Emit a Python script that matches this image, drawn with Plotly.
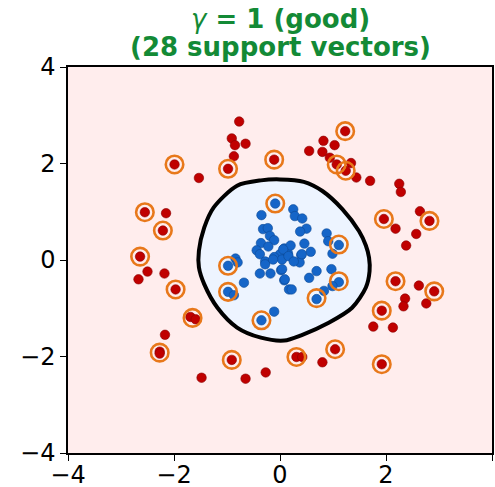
import plotly.graph_objects as go

# ---- data ----
red_x = [-0.77, -0.91, -0.85, -0.65, -0.87, -0.98, -1.99, -1.53, -0.11, -2.55, -2.15, -2.21,
         -2.64, -2.50, -2.18, -2.67, -1.97, -1.69, -1.59, -2.17, -2.27, -2.27, -0.91, -1.48,
         -0.65, -0.27, 2.18, 2.62, 2.91, 2.36, 2.33, 2.76, 1.92, 1.76, 2.13, 1.04, 0.80,
         0.31, 0.42, 1.92, 1.23, 0.82, 1.03, 0.55, 0.80, 0.94, 1.07, 1.34, 1.24, 1.44, 1.70,
         2.25, 2.28, 1.96, 2.18, 2.64, 2.82, 2.57, 2.38]
red_y = [2.87, 2.52, 2.38, 2.41, 2.15, 1.89, 1.98, 1.70, 2.08, 0.99, 0.97, 0.61,
         0.07, -0.24, -0.28, -0.40, -0.61, -1.18, -1.23, -1.55, -1.90, -1.94, -2.07, -2.44,
         -2.46, -2.33, -0.44, -0.53, -0.65, -0.80, -0.96, -0.90, -1.05, -1.38, -1.40, -1.85, -2.12,
         -2.01, -2.01, -2.16, 2.67, 2.47, 2.38, 2.26, 2.24, 2.12, 1.98, 2.01, 1.85, 1.71, 1.64,
         1.58, 1.41, 0.85, 0.65, 1.01, 0.81, 0.54, 0.30]

blue_x = [-0.09, -0.98, -0.98, -0.35, 0.69, 1.11, 1.11,
          -0.35, -0.32, -0.23, -0.19, -0.11, -0.36, -0.44, -0.38, 0.08, 0.00, -0.11, 0.04,
          -0.28, -0.84, 0.15, 0.25, 0.28, 0.42, 0.50, 0.38, 0.88, 0.91, 0.46, 0.20, 0.58,
          0.40, 0.99, 0.06, 0.16, -0.68, -0.87, -0.11, -0.28, -0.38, -0.18, 0.02, -0.13,
          0.08, 0.17, 0.37, 0.26, 0.04, 0.09, 0.22, 0.55, 0.69, 0.97, 0.99, 0.83, 0.41,
          -0.80, -0.22]
blue_y = [1.17, -0.12, -0.66, -1.25, -0.81, -0.46, 0.31,
          0.93, 0.64, 0.66, 0.50, 0.41, 0.35, 0.20, 0.12, 0.24, 0.12, 0.06, 0.01,
          -0.03, 0.03, 0.14, 1.05, 0.91, 0.86, 0.65, 0.59, 0.55, 0.39, 0.34, 0.30, 0.17,
          0.10, 0.13, 0.22, 0.08, -0.47, -0.73, -1.07, -0.09, -0.28, -0.28, -0.21, 0.01,
          -0.42, -0.61, -0.05, -0.03, -0.19, -0.40, -0.61, -0.37, -0.23, -0.19, -0.54, -0.64, 0.12,
          -0.05, 0.28]

sv_x = [-0.98, -1.99, -0.11, -2.55, -2.21, -2.64, -1.97, -1.65, -2.27, -0.91, 1.23, 1.07,
        1.24, 1.96, 2.82, 2.18, 2.91, 1.92, 1.04, 0.31, 1.92,
        -0.09, -0.98, -0.98, -0.35, 0.69, 1.11, 1.11]
sv_y = [1.89, 1.98, 2.08, 0.99, 0.61, 0.07, -0.61, -1.20, -1.92, -2.07, 2.67, 1.98,
        1.85, 0.85, 0.81, -0.44, -0.65, -1.05, -1.85, -2.01, -2.16,
        1.17, -0.12, -0.66, -1.25, -0.79, -0.44, 0.32]

boundary_x = [0.00, -0.36, -0.81, -1.25, -1.43, -1.53, -1.53, -1.43, -1.18, -0.81, -0.36,
              0.08, 0.40, 0.92, 1.36, 1.62, 1.69, 1.68, 1.62, 1.49, 1.18, 0.80, 0.45, 0.00]
boundary_y = [1.67, 1.65, 1.54, 1.09, 0.67, 0.19, -0.15, -0.50, -0.99, -1.40, -1.61,
              -1.67, -1.56, -1.30, -0.99, -0.57, -0.23, 0.05, 0.30, 0.60, 1.05, 1.43, 1.62, 1.67]

tick_vals = [-4, -2, 0, 2, 4]
title_line1 = "<i>γ</i><b> = 1 (good)</b>"
title_line2 = "<b>(28 support vectors)</b>"

fig = go.Figure()
fig.add_trace(go.Scatter(x=boundary_x, y=boundary_y, mode="lines",
                         line=dict(color="black", width=4, shape="spline", smoothing=0.8),
                         fill="toself", fillcolor="#edf4ff", hoverinfo="skip", showlegend=False))
fig.add_trace(go.Scatter(x=red_x, y=red_y, mode="markers",
                         marker=dict(size=9.5, color="#c00000", line=dict(color="#8a0000", width=0.6)), showlegend=False))
fig.add_trace(go.Scatter(x=blue_x, y=blue_y, mode="markers",
                         marker=dict(size=9.5, color="#1565c8", line=dict(color="#0d4a96", width=0.6)), showlegend=False))
fig.add_trace(go.Scatter(x=sv_x, y=sv_y, mode="markers",
                         marker=dict(size=17.5, symbol="circle-open", color="#e8781a",
                                     line=dict(color="#e8781a", width=2.6)), showlegend=False))

axis_common = dict(range=[-4, 4], tickvals=tick_vals, ticks="outside", ticklen=6, tickwidth=1.2, tickcolor="black",
                   showline=True, linecolor="black", linewidth=1.5, mirror=True, showgrid=False, zeroline=False,
                   automargin=False,
                   tickfont=dict(family="DejaVu Sans", size=24, color="black"))
fig.update_xaxes(**axis_common, ticklabelstandoff=-7)
fig.update_yaxes(**axis_common)

title_font = dict(family="DejaVu Sans", size=26, color="#138a36")
fig.update_layout(width=495, height=487, margin=dict(l=68, r=3, t=67, b=34, autoexpand=False),
                  plot_bgcolor="#ffeded", paper_bgcolor="white",
                  font=dict(family="DejaVu Sans"),
                  annotations=[
                      dict(text=title_line1, xref="paper", yref="paper", x=0.5, y=1.0, yshift=48,
                           xanchor="center", yanchor="middle", showarrow=False, font=title_font),
                      dict(text=title_line2, xref="paper", yref="paper", x=0.5, y=1.0, yshift=20,
                           xanchor="center", yanchor="middle", showarrow=False, font=title_font),
                  ])
fig.write_html("out.html")
